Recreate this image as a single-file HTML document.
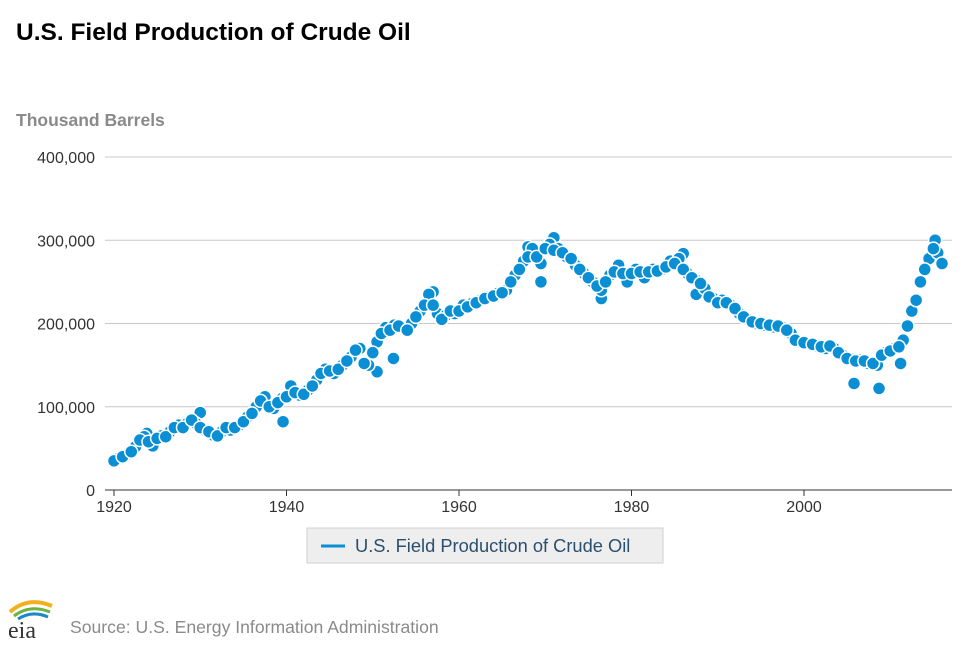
<!DOCTYPE html>
<html><head><meta charset="utf-8"><style>
body{margin:0;background:#fff;font-family:"Liberation Sans",Arial,sans-serif;}
#wrap{position:relative;width:970px;height:647px;overflow:hidden}
</style></head><body>
<div id="wrap">
<svg id="chart" width="970" height="647">
<text x="16" y="40" font-size="24.5" font-weight="bold" fill="#000">U.S. Field Production of Crude Oil</text>
<text x="16" y="126" font-size="17.5" font-weight="bold" fill="#8a8a8a">Thousand Barrels</text>
<g id="grid"></g><g id="axes"></g><g id="series"></g>
<g>
<rect x="307" y="528" width="356" height="35" fill="#eeeeee" stroke="#d0d0d0"/>
<line x1="321" y1="546" x2="345" y2="546" stroke="#0a8fd4" stroke-width="3"/>
<text x="355" y="552" font-size="18.3" fill="#2a4f6e">U.S. Field Production of Crude Oil</text>
</g>
<g>
<path d="M10 612 Q28 596 52 606" stroke="#f2b01e" stroke-width="4" fill="none"/>
<path d="M14 616 Q30 604 50 612" stroke="#6cb33f" stroke-width="3" fill="none"/>
<path d="M18 619 Q32 610 48 617" stroke="#1e88c7" stroke-width="3" fill="none"/>
<text x="8" y="638" font-size="24" font-family="Liberation Serif,serif" fill="#333">eia</text>
</g>
<text x="70" y="633" font-size="17.6" fill="#8a8a8a">Source: U.S. Energy Information Administration</text>
</svg></div>
<script>
const years=[];for(let y=1920;y<=2016;y++)years.push(y);
const values=[35,40,46,60,58,62,64,75,75,84,75,70,65,75,75,82,92,107,100,105,112,117,115,125,140,143,145,155,168,152,165,188,192,197,192,208,222,222,205,215,215,220,225,230,233,237,250,265,280,280,290,288,285,278,265,255,245,250,262,260,260,262,262,263,268,272,265,255,248,232,225,225,218,208,202,200,198,197,192,180,177,175,172,173,165,158,155,155,152,162,167,172,197,228,265,290,272];
const midYears=[];for(let y=1920.5;y<2016;y+=1)midYears.push(y);
const midValues=[38,43,52,64,53,65,70,78,80,80,72,66,70,72,78,88,100,112,98,110,125,114,120,132,145,140,150,160,170,150,178,195,198,195,200,215,235,212,210,212,222,224,228,232,236,240,258,275,290,272,295,290,280,270,260,250,240,258,270,250,265,255,265,265,275,278,260,252,242,230,228,222,212,205,200,198,196,195,188,178,176,173,170,170,162,157,156,152,150,165,170,180,215,250,278,285];
const extraYears=[1923.8,1930,1939.6,1950.5,1952.4,1957,1968,1969.5,1971,1976.5,1986,1987.5,2005.8,2008.7,2011.2,2015.2];
const extraValues=[68,93,82,142,158,238,292,250,303,230,284,235,128,122,152,300];
const yTicks=[0,100000,200000,300000,400000];
const xTicks=[1920,1940,1960,1980,2000];
const NS='http://www.w3.org/2000/svg';
const X=y=>114+(y-1920)*8.625, Y=v=>490-v*0.8325/1000;
function mk(t,a,p){const e=document.createElementNS(NS,t);for(const k in a)e.setAttribute(k,a[k]);p.appendChild(e);return e;}
const grid=document.getElementById('grid'),axes=document.getElementById('axes'),ser=document.getElementById('series');
yTicks.forEach(v=>{
 if(v>0){const l=mk('line',{x1:105,x2:952,y1:Y(v),y2:Y(v),stroke:'#c8c8c8'},grid);
 
 }
 const t=mk('text',{x:95,y:Y(v)+6,'text-anchor':'end','font-size':16,fill:'#333'},axes);
 t.textContent=v.toLocaleString('en-US');
 
 
});
const ax=mk('line',{x1:105,x2:952,y1:490,y2:490,stroke:'#333'},axes);


xTicks.forEach(y=>{
 const tk=mk('line',{x1:X(y),x2:X(y),y1:490,y2:496,stroke:'#333'},axes);
 
 
 const t=mk('text',{x:X(y),y:512,'text-anchor':'middle','font-size':16,fill:'#333'},axes);
 t.textContent=y;
 
 
});
function dot(x,v){
 const c=mk('circle',{cx:X(x),cy:Y(v*1000),r:6.5,fill:'#0a8fd4',stroke:'#fff','stroke-width':1.5},ser);
 
 
}
extraYears.forEach((y,i)=>dot(y,extraValues[i]));
midYears.forEach((y,i)=>dot(y,midValues[i]));
years.forEach((y,i)=>dot(y,values[i]));
</script>
</body></html>
